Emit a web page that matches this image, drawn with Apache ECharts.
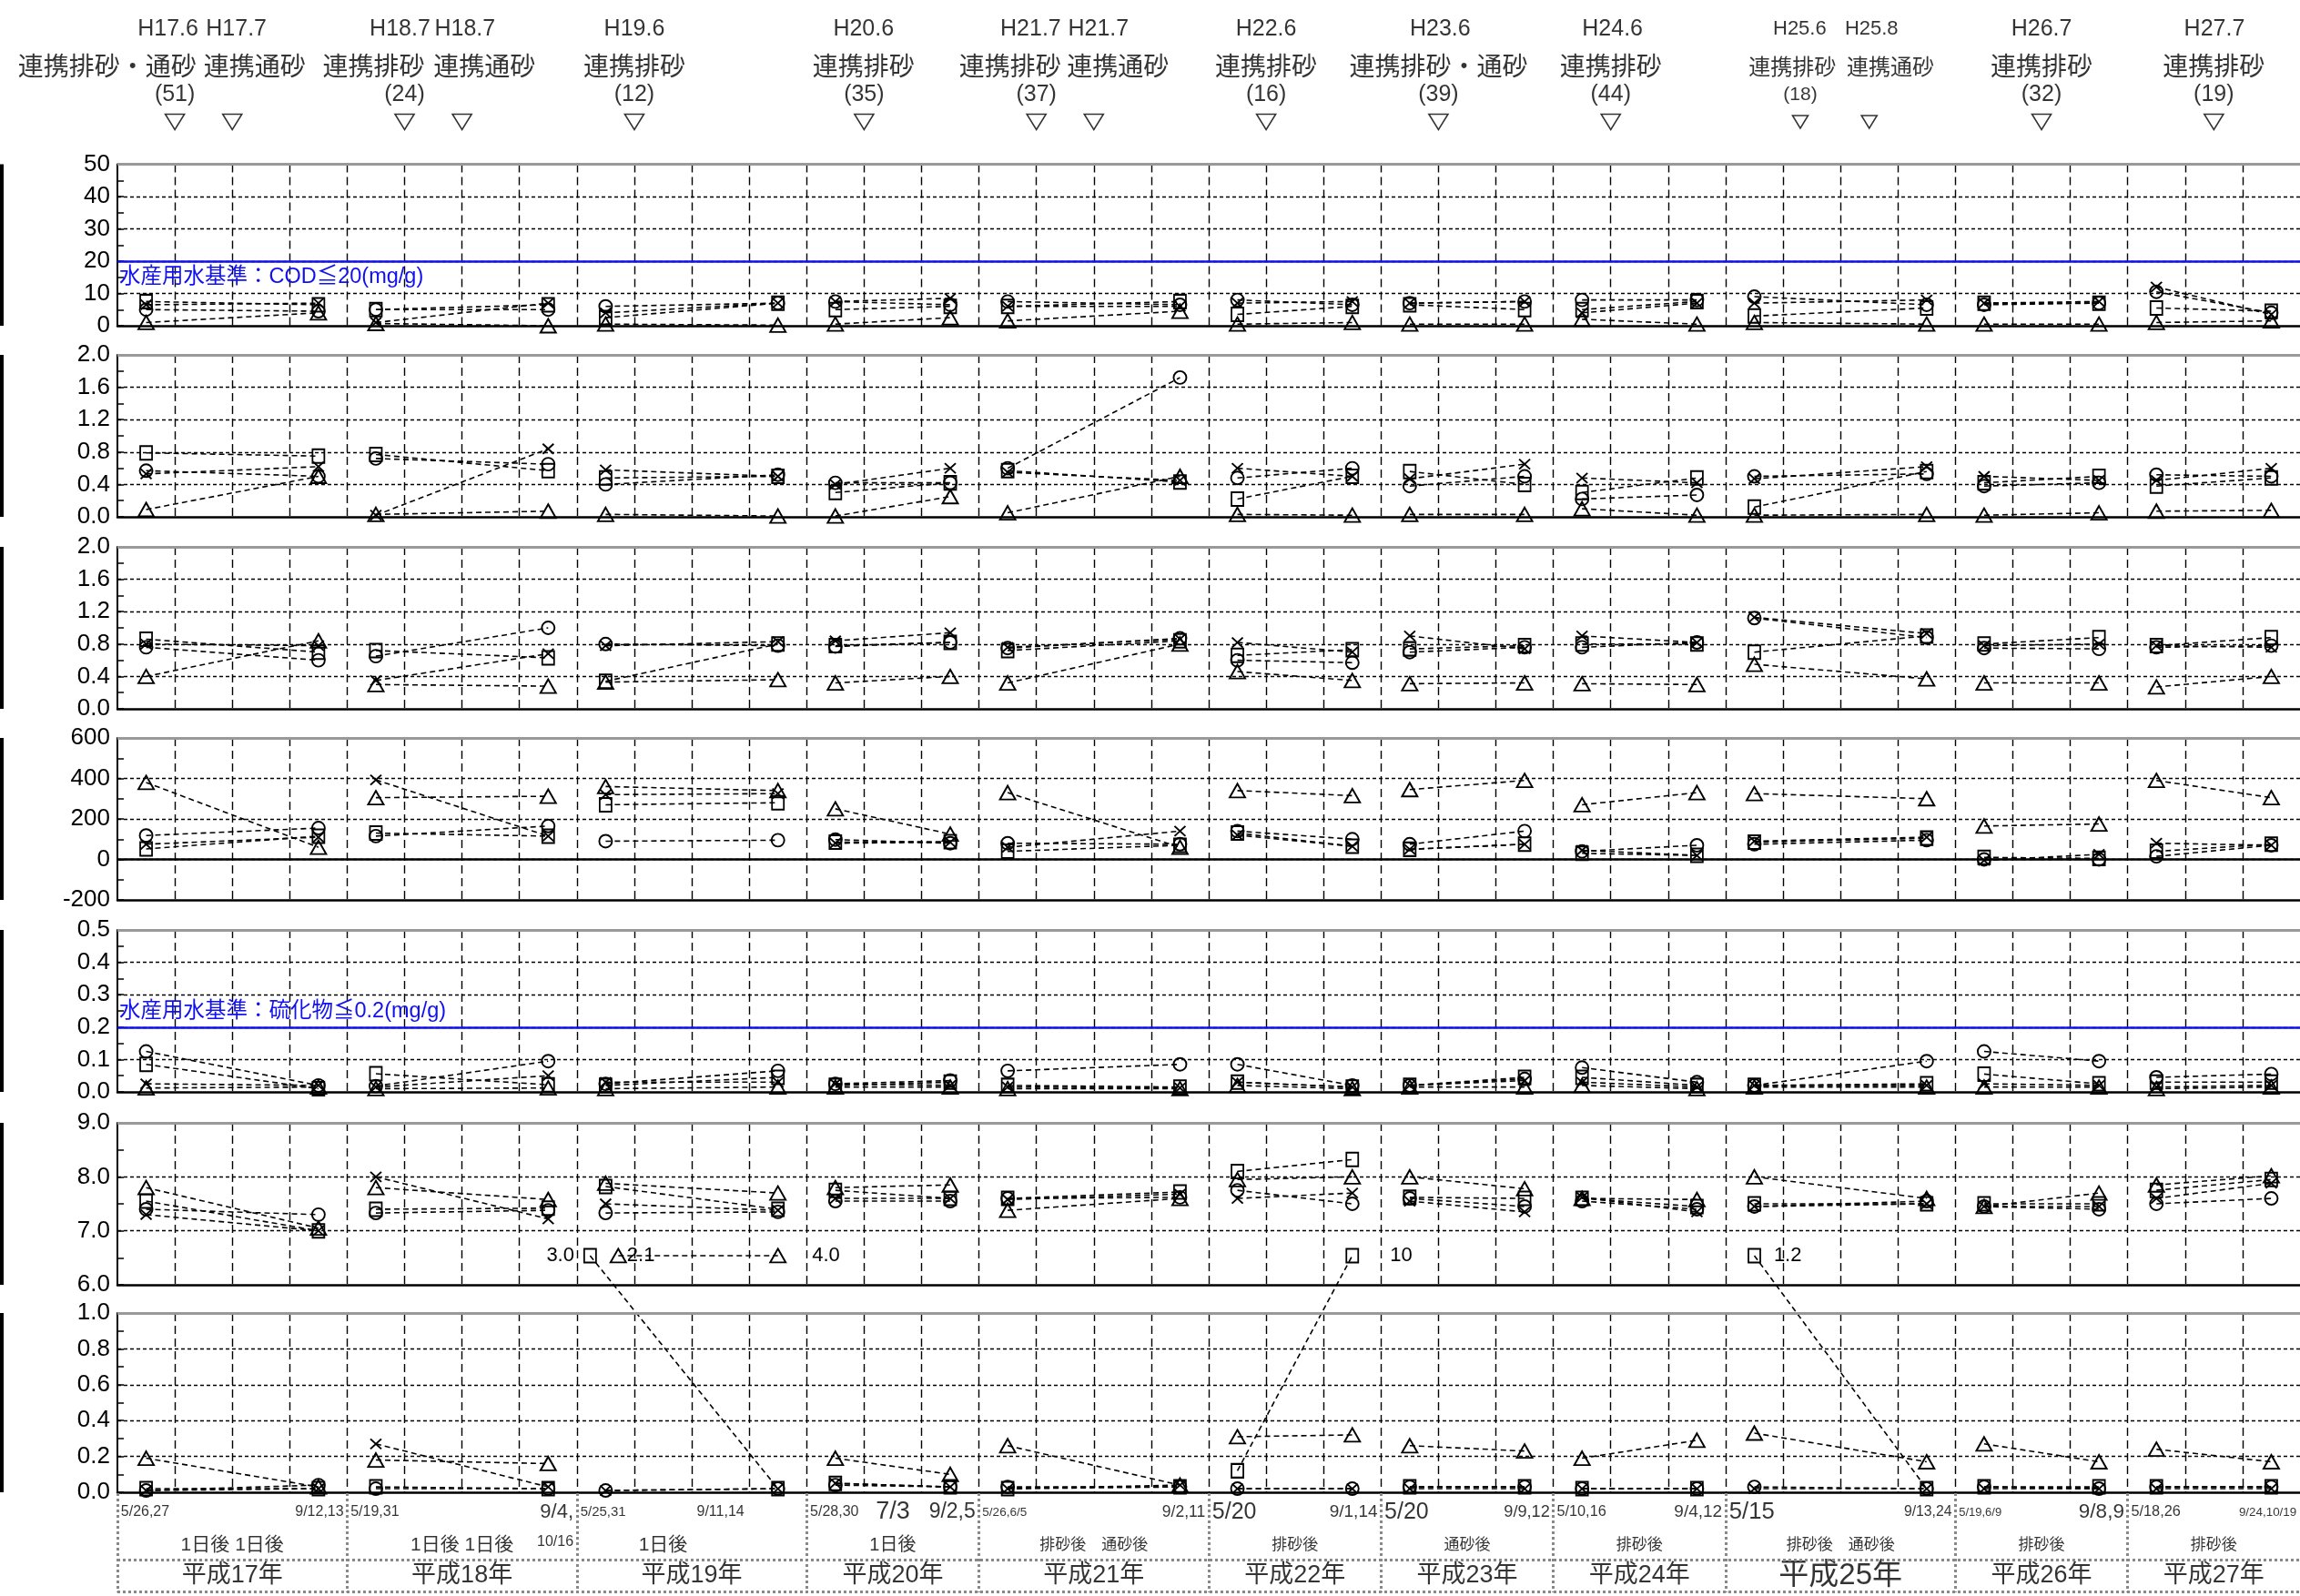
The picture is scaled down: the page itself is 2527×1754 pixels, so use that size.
<!DOCTYPE html>
<html><head><meta charset="utf-8">
<script src="https://cdn.jsdelivr.net/npm/echarts@6/dist/echarts.min.js"></script>
<style>html,body{margin:0;padding:0;background:#fff}#c{width:2527px;height:1754px}</style>
</head><body><div id="c"></div>
<script>
// ================= DATA =================
const yearNames = ['平成17年','平成18年','平成19年','平成20年','平成21年','平成22年','平成23年','平成24年','平成25年','平成26年','平成27年'];
const yearColumns = [4,4,4,3,4,3,3,3,4,3,3];          // sampling columns per year on the x scale
const surveyNotes = ['1日後 1日後','1日後 1日後','1日後','1日後','排砂後　通砂後','排砂後','通砂後','排砂後','排砂後　通砂後','排砂後','排砂後'];
const dateFirst  = ['5/26,27','5/19,31','5/25,31','5/28,30','5/26,6/5','5/20','5/20','5/10,16','5/15','5/19,6/9','5/18,26'];
const dateSecond = ['9/12,13','9/4,','9/11,14','9/2,5','9/2,11','9/1,14','9/9,12','9/4,12','9/13,24','9/8,9','9/24,10/19'];
const dateExtra  = ['10/16','7/3'];

const eventDates  = ['H17.6','H17.7','H18.7','H18.7','H19.6','H20.6','H21.7','H21.7','H22.6','H23.6','H24.6','H25.6','H25.8','H26.7','H27.7'];
const eventKinds  = ['連携排砂・通砂','連携通砂','連携排砂','連携通砂','連携排砂','連携排砂','連携排砂','連携通砂','連携排砂','連携排砂・通砂','連携排砂','連携排砂','連携通砂','連携排砂','連携排砂'];
const eventCounts = ['(51)','','(24)','','(12)','(35)','(37)','','(16)','(39)','(44)','(18)','','(32)','(19)'];
const eventTimes  = [1,2,5,6,9,13,16,17,20,23,26,29.3,30.5,33.5,36.5];   // event position on the column scale

// panel 1 (COD mg/g)  — pairs per year: [before, after]
const p1Circle   = [5,4.5, 5,5, 6,7, 7.5,6.5, 7.5,6.5, 8,6.5, 7,7.5, 8,8, 9,6.5, 6.5,7, 10.5,4];
const p1Square   = [7.5,6.5, 5,6.5, 2.5,7, 5,6, 6,7.5, 3.5,6, 6.5,5, 5,7.5, 3,5.5, 7,7, 5.5,4.5];
const p1Triangle = [1,4, 0.7,0, 0.5,0.2, 0.5,2.5, 1.5,4.5, 0.5,1, 0.5,0.5, 2,0.5, 1,0.5, 0.5,0.5, 1,1.5];
const p1Cross    = [6.5,7, 1,7, 4,7, 7.5,8.5, 6,6, 7,7.5, 7,7.5, 4,7, 7,8, 7,7.5, 12,3.5];
// panel 2
const p2Circle   = [0.57,0.5, 0.72,0.65, 0.4,0.52, 0.42,0.42, 0.6,1.72, 0.48,0.6, 0.38,0.5, 0.22,0.27, 0.5,0.53, 0.38,0.42, 0.52,0.5];
const p2Square   = [0.79,0.75, 0.77,0.57, 0.48,0.5, 0.3,0.42, 0.57,0.43, 0.22,0.5, 0.56,0.4, 0.3,0.48, 0.12,0.56, 0.42,0.5, 0.38,0.48];
const p2Triangle = [0.09,0.5, 0.03,0.07, 0.03,0.01, 0.01,0.25, 0.05,0.5, 0.03,0.02, 0.03,0.03, 0.1,0.02, 0.02,0.03, 0.02,0.05, 0.07,0.08];
const p2Cross    = [0.53,0.62, 0.02,0.84, 0.58,0.5, 0.4,0.6, 0.55,0.45, 0.6,0.5, 0.47,0.65, 0.48,0.42, 0.47,0.62, 0.5,0.45, 0.45,0.6];
// panel 3
const p3Circle   = [0.76,0.6, 0.65,1.0, 0.8,0.78, 0.77,0.82, 0.75,0.87, 0.6,0.57, 0.7,0.76, 0.76,0.82, 1.12,0.88, 0.75,0.74, 0.76,0.78];
const p3Square   = [0.86,0.7, 0.72,0.63, 0.34,0.8, 0.78,0.82, 0.72,0.84, 0.66,0.73, 0.74,0.78, 0.8,0.8, 0.7,0.9, 0.8,0.88, 0.78,0.88];
const p3Triangle = [0.4,0.84, 0.3,0.28, 0.33,0.36, 0.32,0.4, 0.32,0.8, 0.46,0.35, 0.31,0.32, 0.31,0.3, 0.55,0.37, 0.32,0.32, 0.27,0.4];
const p3Cross    = [0.8,0.78, 0.35,0.68, 0.78,0.83, 0.84,0.94, 0.76,0.86, 0.82,0.7, 0.9,0.74, 0.9,0.82, 1.13,0.93, 0.78,0.8, 0.78,0.76];
// panel 4
const p4Circle   = [118,155, 115,165, 90,95, 98,80, 80,75, 140,100, 75,140, 40,70, 75,95, 0,0, 15,70];
const p4Square   = [52,115, 130,115, 270,280, 85,88, 40,70, 130,65, 50,75, 30,20, 85,105, 10,5, 40,75];
const p4Triangle = [380,60, 305,312, 360,340, 250,125, 330,60, 340,315, 345,390, 270,330, 325,300, 165,175, 390,305];
const p4Cross    = [75,110, 393,115, 320,325, 80,85, 60,140, 120,65, 50,75, 45,20, 90,110, -5,25, 80,70];
// panel 5 (sulfide mg/g)
const p5Circle   = [0.125,0.02, 0.018,0.095, 0.025,0.065, 0.025,0.035, 0.065,0.085, 0.085,0.02, 0.02,0.04, 0.075,0.03, 0.02,0.095, 0.125,0.095, 0.045,0.055];
const p5Square   = [0.085,0.01, 0.056,0.022, 0.02,0.045, 0.02,0.03, 0.02,0.015, 0.03,0.015, 0.02,0.045, 0.045,0.02, 0.02,0.025, 0.055,0.025, 0.03,0.03];
const p5Triangle = [0.012,0.015, 0.01,0.012, 0.01,0.015, 0.015,0.015, 0.01,0.01, 0.02,0.01, 0.015,0.015, 0.02,0.01, 0.015,0.015, 0.015,0.015, 0.01,0.015];
const p5Cross    = [0.025,0.02, 0.015,0.05, 0.03,0.03, 0.025,0.02, 0.015,0.012, 0.03,0.015, 0.02,0.035, 0.03,0.015, 0.02,0.02, 0.025,0.02, 0.015,0.02];
// panel 6
const p6Circle   = [7.4,7.3, 7.33,7.38, 7.33,7.35, 7.55,7.55, 7.6,7.62, 7.75,7.5, 7.6,7.45, 7.55,7.4, 7.45,7.55, 7.45,7.4, 7.5,7.6];
const p6Square   = [7.55,7.0, 7.4,7.42, 7.82,7.4, 7.75,7.6, 7.6,7.72, 8.1,8.32, 7.62,7.6, 7.6,7.45, 7.5,7.5, 7.5,7.5, 7.75,7.95];
const p6Triangle = [7.8,7.05, 7.8,7.58, 7.88,7.7, 7.8,7.85, 7.38,7.6, 7.95,8.0, 8.0,7.78, 7.6,7.58, 8.0,7.6, 7.45,7.7, 7.85,8.02];
const p6Cross    = [7.3,7.0, 8.0,7.22, 7.5,7.38, 7.6,7.6, 7.58,7.68, 7.6,7.7, 7.55,7.35, 7.62,7.35, 7.45,7.5, 7.45,7.45, 7.6,7.88];
// panel 7 (values above 1.0 are shown above the frame with their value)
const p7Circle   = [0.01,0.04, 0.02,0.02, 0.01,0.02, 0.04,0.03, 0.03,0.03, 0.02,0.02, 0.03,0.03, 0.02,0.02, 0.03,0.02, 0.03,0.02, 0.03,0.03];
const p7Square   = [0.02,0.02, 0.03,0.02, 3.0,0.02, 0.05,0.03, 0.02,0.03, 0.12,10, 0.03,0.03, 0.02,0.02, 1.2,0.02, 0.03,0.03, 0.03,0.03];
const p7Triangle = [0.19,0.03, 0.18,0.16, 2.1,4.0, 0.19,0.1, 0.26,0.04, 0.31,0.32, 0.26,0.23, 0.19,0.29, 0.33,0.17, 0.27,0.17, 0.24,0.17];
const p7Cross    = [0.01,0.02, 0.27,0.03, 0.01,0.02, 0.05,0.03, 0.02,0.04, 0.02,0.02, 0.02,0.02, 0.02,0.02, 0.02,0.02, 0.02,0.02, 0.02,0.02];

// ================= STYLE / LAYOUT =================
const LAT = "'Liberation Sans', Arial, sans-serif";
const JP  = "'Liberation Sans', 'Noto Sans CJK JP', sans-serif";
const W = 2527, H = 1754, LEFT = 129;
const panels = [
  {top:180.5, height:177.5, min:0,    max:50,  interval:10,  dec:0, d:[p1Circle,p1Square,p1Triangle,p1Cross],
   std:{v:20, text:'水産用水基準：COD≦20(mg/g)', pos:'insideStartBottom'}},
  {top:390,   height:178,   min:0,    max:2,   interval:0.4, dec:1, d:[p2Circle,p2Square,p2Triangle,p2Cross]},
  {top:601,   height:178,   min:0,    max:2,   interval:0.4, dec:1, d:[p3Circle,p3Square,p3Triangle,p3Cross]},
  {top:811,   height:178,   min:-200, max:600, interval:200, dec:0, d:[p4Circle,p4Square,p4Triangle,p4Cross], zero:true},
  {top:1022,  height:178,   min:0,    max:0.5, interval:0.1, dec:1, d:[p5Circle,p5Square,p5Triangle,p5Cross],
   std:{v:0.2, text:'水産用水基準：硫化物≦0.2(mg/g)', pos:'insideStartTop'}},
  {top:1234,  height:178,   min:6,    max:9,   interval:1,   dec:1, d:[p6Circle,p6Square,p6Triangle,p6Cross]},
  {top:1443,  height:197,   min:0,    max:1,   interval:0.2, dec:1, d:[p7Circle,p7Square,p7Triangle,p7Cross]}
];
const symKeys = ['circle','square','triangle','cross'];
const SYM = {
  circle:  {symbol:'circle', size:[14,14], z:4},
  square:  {symbol:'rect', size:[13,15], z:3},
  triangle:{symbol:'triangle', size:[17,15], z:2},
  cross:   {symbol:'path://M0,0L10,10M10,0L0,10', size:[12,11], z:5}
};
const overflowLift = 0.32;
const overflowStyle = {
  'square-4':  {dx:-0.27, pos:'left',  dist:10},
  'triangle-4':{dx:0.22,  pos:'right', dist:0},
  'triangle-5':{dx:0,     pos:'right', dist:28},
  'square-11': {dx:0,     pos:'right', dist:34},
  'square-16': {dx:0,     pos:'right', dist:14}
};
const hPos    = [0.88,2.07,4.92,6.05,9.0,12.99,15.9,17.08,20.0,23.03,26.03,29.29,30.54,33.5,36.51];
const kindPos = [-0.18,2.39,4.46,6.39,9.0,12.99,15.54,17.42,20.0,23.0,26.0,29.16,30.87,33.5,36.5];
const smallEv = [11,12];
const firstSize  = [16,16,15,16,13.5,25,25,16.3,25.7,13,16.3];
const secondSize = [16,22,16,23,17.5,19,18.2,19,15.8,22.5,13.4];
const noteSize   = [21,21,21,20,17,17,17,17,17,17,17];
const notePos    = [2,6,9.5,13.5,17,20.5,23.5,26.5,30,33.5,36.5];

// ================= BUILD =================
const bounds = [0]; yearColumns.forEach(c => bounds.push(bounds[bounds.length-1] + c));
const XMAX = bounds[bounds.length-1];
const fmtVal = v => v >= 10 ? String(v) : v.toFixed(1);

const grids = [], xAxes = [], yAxes = [], series = [];
panels.forEach((p, pi) => {
  grids.push({left:LEFT, right:0, top:p.top, height:p.height});
  xAxes.push({gridIndex:pi, type:'value', min:0, max:XMAX, interval:1,
    axisLine:{show:true, onZero:false, lineStyle:{color:'#000', width:2.5}},
    axisTick:{show:false}, axisLabel:{show:false},
    splitLine:{show:true, showMinLine:false, showMaxLine:false, lineStyle:{color:'#000', width:1.4, type:[9,5]}}});
  yAxes.push({gridIndex:pi, type:'value', min:p.min, max:p.max, interval:p.interval,
    axisLine:{show:true, lineStyle:{color:'#000', width:2}},
    axisTick:{show:true, inside:true, length:7, lineStyle:{color:'#000', width:1.5}},
    minorTick:{show:true, splitNumber:2, length:7, lineStyle:{color:'#000', width:1.5}},
    axisLabel:{fontSize:26, color:'#000', fontFamily:LAT, margin:8, formatter:v => Number(v).toFixed(p.dec)},
    splitLine:{show:true, showMinLine:false, showMaxLine:false, lineStyle:{color:'#000', width:1.4, type:[4,3]}}});
  symKeys.forEach((key, si) => {
    const vals = p.d[si], data = [];
    for (let y = 0; y < yearColumns.length; y++) {
      const xs = [bounds[y] + 0.5, bounds[y+1] - 0.5];
      for (let k = 0; k < 2; k++) {
        const idx = 2*y + k, v = vals[idx];
        if (v > p.max) {
          const st = overflowStyle[key + '-' + idx] || {dx:0, pos:'right', dist:10};
          data.push({value:[xs[k] + st.dx, p.max + overflowLift],
            label:{show:true, formatter:fmtVal(v), position:st.pos, distance:st.dist, fontSize:22, fontFamily:LAT, color:'#000'}});
        } else data.push([xs[k], v]);
      }
      data.push([xs[1] + 0.25, '-']);
    }
    series.push({type:'line', name:key+pi, xAxisIndex:pi, yAxisIndex:pi, data, clip: pi !== 6,
      symbol:SYM[key].symbol, symbolSize:SYM[key].size, showSymbol:true, z:SYM[key].z, silent:true,
      lineStyle:{color:'#000', width:1.6, type:[6,4]},
      itemStyle:{color:'rgba(255,255,255,0)', borderColor:'#000', borderWidth:1.9}});
  });
  const lines = [{yAxis:p.max, lineStyle:{color:'#999', width:3, type:'solid'}, label:{show:false}}];
  if (p.std) lines.push({yAxis:p.std.v, lineStyle:{color:'#1010f0', width:2.5, type:'solid'},
    label:{show:true, position:p.std.pos, formatter:p.std.text, color:'#1010f0', fontSize:23.5, fontFamily:JP, distance:[2,6]}});
  if (p.zero) lines.push({yAxis:0, lineStyle:{color:'#000', width:2.5, type:'solid'}, label:{show:false}});
  series.push({type:'line', xAxisIndex:pi, yAxisIndex:pi, data:[], silent:true, z:1,
    markLine:{silent:true, symbol:'none', animation:false, data:lines}});
});

// overlay grid (pixel y, column-scale x) for header / footer annotations
const OV = panels.length;
grids.push({left:LEFT, right:0, top:0, bottom:0});
xAxes.push({gridIndex:OV, type:'value', min:0, max:XMAX, show:false});
yAxes.push({gridIndex:OV, type:'value', min:0, max:H, inverse:true, show:false});
const txt = (u, y, text, size, font, align) => ({value:[u, y],
  label:{show:true, position:'inside', formatter:text, fontSize:size, fontFamily:font, color:'#000', align:align || 'center', verticalAlign:'middle'}});
const texts = [];
eventDates.forEach((t, i) => texts.push(txt(hPos[i], 32, t, smallEv.includes(i) ? 22 : 25, LAT)));
eventKinds.forEach((t, i) => texts.push(txt(kindPos[i], 75, t, smallEv.includes(i) ? 24 : 28, JP)));
eventCounts.forEach((t, i) => { if (t) texts.push(txt(eventTimes[i], 104, t, smallEv.includes(i) ? 21 : 25, LAT)); });
const pad = 0.06;
dateFirst.forEach((t, i) => texts.push(txt(bounds[i] + pad, 1662, t, firstSize[i], LAT, 'left')));
dateSecond.forEach((t, i) => {
  if (i === 2) texts.push(txt(bounds[i] + 2.5, 1662, t, secondSize[i], LAT, 'center'));
  else texts.push(txt(bounds[i+1] - pad, 1662, t, secondSize[i], LAT, 'right'));
});
texts.push(txt(bounds[2] - pad, 1695, dateExtra[0], 16, LAT, 'right'));
texts.push(txt(bounds[3] + 1.5, 1662, dateExtra[1], 27, LAT, 'center'));
surveyNotes.forEach((t, i) => texts.push(txt(notePos[i], 1698, t, noteSize[i], JP)));
yearNames.forEach((t, i) => texts.push(txt((bounds[i] + bounds[i+1]) / 2, 1732, t, i === 8 ? 33 : 27, JP)));

series.push({type:'scatter', xAxisIndex:OV, yAxisIndex:OV, data:texts, symbolSize:1, clip:false, silent:true,
  itemStyle:{color:'rgba(0,0,0,0)'}});
series.push({type:'scatter', xAxisIndex:OV, yAxisIndex:OV, silent:true, clip:false,
  data:eventTimes.map((u, i) => ({value:[u, 134], symbolSize: smallEv.includes(i) ? [17,14] : [21,17]})),
  symbol:'path://M0,0L20,0L10,17Z', itemStyle:{color:'rgba(0,0,0,0)', borderColor:'#000', borderWidth:1.6}});
const fl = [];
bounds.slice(0, -1).forEach(b => fl.push([{coord:[b, 1641]}, {coord:[b, 1750]}]));
fl.push([{coord:[0, 1714]}, {coord:[XMAX, 1714]}]);
fl.push([{coord:[0, 1749]}, {coord:[XMAX, 1749]}]);
series.push({type:'line', xAxisIndex:OV, yAxisIndex:OV, data:[], silent:true,
  markLine:{silent:true, symbol:'none', animation:false, label:{show:false},
    lineStyle:{color:'#888', width:3, type:'dotted'}, data:fl}});

const chart = echarts.init(document.getElementById('c'), null, {renderer:'canvas', width:W, height:H});
const graphics = panels.map(p => ({type:'rect', shape:{x:0, y:p.top, width:4, height:p.height}, style:{fill:'#000'}}));
chart.setOption({animation:false, backgroundColor:'#fff', grid:grids, xAxis:xAxes, yAxis:yAxes, series, graphic:graphics});
</script></body></html>
